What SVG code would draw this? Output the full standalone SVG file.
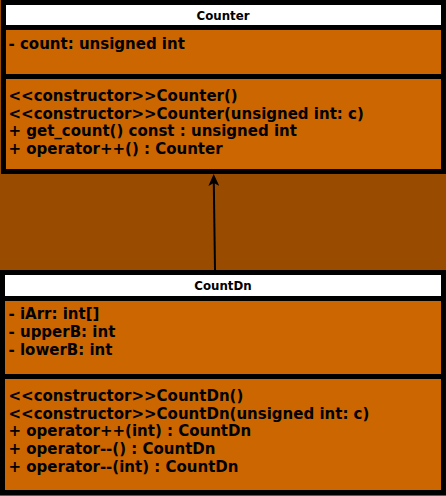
<svg xmlns="http://www.w3.org/2000/svg" width="446" height="496" viewBox="0 0 446 496">
  <style>
    .box { fill: #CC6600; stroke: #000000; stroke-width: 5; }
    .title { fill: #FFFFFF; }
    .sep { stroke: #000000; stroke-width: 5; }
    .ttl { font-family: "DejaVu Sans", "Verdana", sans-serif; font-weight: bold; font-size: 11.8px; fill: #000000; text-anchor: middle; }
    .txt { font-family: "DejaVu Sans", "Verdana", sans-serif; font-weight: bold; font-size: 15px; fill: #000000; }
    .edge { fill: none; stroke: #000000; stroke-width: 2; }
  </style>
  <defs>
    <marker id="arrow" viewBox="0 0 12 11" refX="3" refY="5.5" markerWidth="12" markerHeight="11" markerUnits="userSpaceOnUse" orient="auto">
      <path d="M0,0 L12,5.5 L0,11 L3,5.5 Z" fill="#000000"/>
    </marker>
  </defs>
  <rect x="0" y="0" width="446" height="496" fill="#994C00"/>

  <g id="counter">
    <rect class="box" x="3.5" y="2.5" width="440" height="169"/>
    <rect class="title" x="6" y="5" width="435" height="20"/>
    <line class="sep" x1="6" y1="27.5" x2="441" y2="27.5"/>
    <line class="sep" x1="6" y1="76.5" x2="441" y2="76.5"/>
    <text class="ttl" x="223" y="20">Counter</text>
    <text class="txt" x="8.5" y="49.3">- count: unsigned int</text>
    <text class="txt" x="8.5" y="100.8">&lt;&lt;constructor&gt;&gt;Counter()</text>
    <text class="txt" x="8.5" y="118.5">&lt;&lt;constructor&gt;&gt;Counter(unsigned int: c)</text>
    <text class="txt" x="8.5" y="136.2">+ get_count() const : unsigned int</text>
    <text class="txt" x="8.5" y="153.9">+ operator++() : Counter</text>
  </g>

  <g id="countdn">
    <rect class="box" x="2.5" y="272.5" width="441" height="220"/>
    <rect class="title" x="5" y="275" width="436" height="21"/>
    <line class="sep" x1="5" y1="298.5" x2="441" y2="298.5"/>
    <line class="sep" x1="5" y1="376.5" x2="441" y2="376.5"/>
    <text class="ttl" x="223" y="290">CountDn</text>
    <text class="txt" x="8.5" y="319.3">- iArr: int[]</text>
    <text class="txt" x="8.5" y="337.1">- upperB: int</text>
    <text class="txt" x="8.5" y="354.9">- lowerB: int</text>
    <text class="txt" x="8.5" y="400.7">&lt;&lt;constructor&gt;&gt;CountDn()</text>
    <text class="txt" x="8.5" y="418.5">&lt;&lt;constructor&gt;&gt;CountDn(unsigned int: c)</text>
    <text class="txt" x="8.5" y="436.3">+ operator++(int) : CountDn</text>
    <text class="txt" x="8.5" y="454.1">+ operator--() : CountDn</text>
    <text class="txt" x="8.5" y="471.9">+ operator--(int) : CountDn</text>
  </g>

  <g id="connectors">
    <path class="edge" d="M215,270 L213.8,183" marker-end="url(#arrow)"/>
  </g>
</svg>
